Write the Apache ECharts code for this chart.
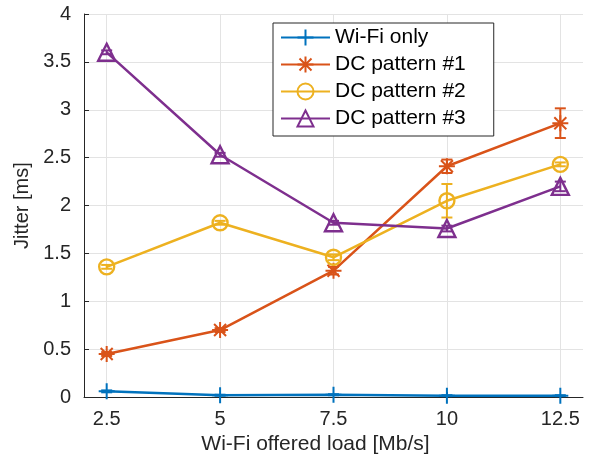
<!DOCTYPE html>
<html><head><meta charset="utf-8">
<script src="https://cdn.jsdelivr.net/npm/echarts@6/dist/echarts.min.js"></script>
<style>html,body{margin:0;padding:0;background:#fff}#c{width:589px;height:460px}</style>
</head><body><div id="c"></div><script>
const loads = [2.5, 5, 7.5, 10, 12.5];
const xTicks = [2.5, 5, 7.5, 10, 12.5];
const wifiOnly = [0.06, 0.02, 0.025, 0.015, 0.015];
const wifiErr = [0.01, 0.005, 0.005, 0.005, 0.005];
const dc1 = [0.45, 0.70, 1.32, 2.41, 2.86];
const dc1Err = [0.02, 0.02, 0.04, 0.07, 0.155];
const dc2 = [1.36, 1.82, 1.46, 2.05, 2.43];
const dc2Err = [0.02, 0.02, 0.03, 0.175, 0.02];
const dc3 = [3.60, 2.53, 1.82, 1.76, 2.20];
const dc3Err = [0.02, 0.02, 0.02, 0.03, 0.05];
const names = ['Wi-Fi only', 'DC pattern #1', 'DC pattern #2', 'DC pattern #3'];
const colors = ['#0072BD', '#D95319', '#EDB120', '#7E2F8E'];

const FONT = 'Liberation Sans, Arial, Helvetica, sans-serif';
const AXC = '#262626';
const PLUS = 'path://M0,7L16,7L16,9L0,9ZM7,0L9,0L9,16L7,16Z';
const STAR = 'path://M0,7L16,7L16,9L0,9ZM7,0L9,0L9,16L7,16Z' +
  'M2.7,1.3L14.7,13.3L13.3,14.7L1.3,2.7Z' +
  'M2.7,14.7L1.3,13.3L13.3,1.3L14.7,2.7Z';
const symbols = [PLUS, STAR, 'circle', 'triangle'];
const symSizes = [16, 16, 15, 17];
const values = [wifiOnly, dc1, dc2, dc3];
const errs = [wifiErr, dc1Err, dc2Err, dc3Err];

const series = [];
values.forEach((vals, k) => {
  series.push({
    type: 'custom', silent: true, z: 2 + k * 2,
    data: loads.map((x, i) => [x, vals[i] - errs[k][i], vals[i] + errs[k][i]]),
    encode: { x: 0, y: [1, 2] },
    renderItem: function (params, api) {
      const lo = api.coord([api.value(0), api.value(1)]);
      const hi = api.coord([api.value(0), api.value(2)]);
      const w = 5.5;
      const st = { stroke: colors[k], lineWidth: 2 };
      return { type: 'group', children: [
        { type: 'line', shape: { x1: lo[0], y1: lo[1], x2: hi[0], y2: hi[1] }, style: st },
        { type: 'line', shape: { x1: lo[0] - w, y1: lo[1], x2: lo[0] + w, y2: lo[1] }, style: st },
        { type: 'line', shape: { x1: hi[0] - w, y1: hi[1], x2: hi[0] + w, y2: hi[1] }, style: st }
      ]};
    }
  });
  const filled = k < 2;
  series.push({
    name: names[k], type: 'line', z: 3 + k * 2,
    data: loads.map((x, i) => [x, vals[i]]),
    symbol: symbols[k], symbolSize: symSizes[k], showAllSymbol: true,
    lineStyle: { color: colors[k], width: 2.5 },
    itemStyle: filled
      ? { color: colors[k], borderWidth: 0 }
      : { color: 'rgba(0,0,0,0)', borderColor: colors[k], borderWidth: 2.4 },
    emphasis: { disabled: true },
    animation: false
  });
});

const chart = echarts.init(document.getElementById('c'), null, { renderer: 'canvas' });
chart.setOption({
  animation: false,
  backgroundColor: '#fff',
  grid: { left: 84, right: 6, top: 14, bottom: 62, containLabel: false },
  legend: {
    data: names, orient: 'vertical', left: 273, top: 23,
    padding: [4, 28, 7, 7], itemGap: 6, itemWidth: 49, itemHeight: 20,
    backgroundColor: '#fff', borderColor: AXC, borderWidth: 1, borderRadius: 0,
    textStyle: { fontSize: 21, color: '#000', fontFamily: FONT, lineHeight: 20 },
    selectedMode: false
  },
  xAxis: {
    type: 'value', min: 2, max: 13,
    name: 'Wi-Fi offered load [Mb/s]', nameLocation: 'middle', nameGap: 30,
    nameTextStyle: { fontSize: 21, color: AXC, fontFamily: FONT, padding: [0, 36, 0, 0] },
    axisLine: { onZero: false, lineStyle: { color: AXC, width: 1 } },
    axisTick: { inside: true, length: 5, customValues: xTicks, lineStyle: { color: AXC } },
    axisLabel: { customValues: xTicks, fontSize: 20, color: AXC, fontFamily: FONT, margin: 12 },
    splitLine: { show: true, lineStyle: { color: '#e3e3e3', width: 1 } }
  },
  yAxis: {
    type: 'value', min: 0, max: 4, interval: 0.5,
    name: 'Jitter [ms]', nameLocation: 'middle', nameGap: 48, nameRotate: 90,
    nameTextStyle: { fontSize: 20, color: AXC, fontFamily: FONT },
    axisLine: { show: true, lineStyle: { color: AXC, width: 1 } },
    axisTick: { show: true, inside: true, length: 5, lineStyle: { color: AXC } },
    axisLabel: { fontSize: 20, color: AXC, fontFamily: FONT, margin: 13 },
    splitLine: { show: true, lineStyle: { color: '#e3e3e3', width: 1 } }
  },
  series: series
});
</script></body></html>
